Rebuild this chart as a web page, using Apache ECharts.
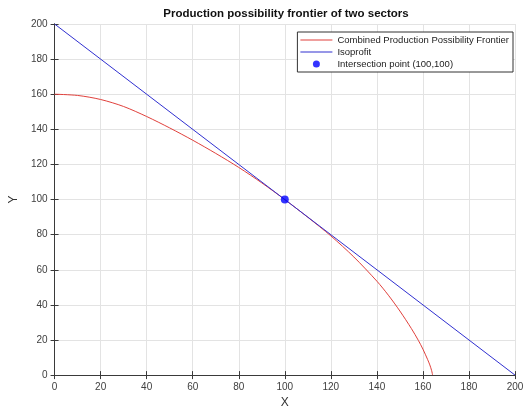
<!DOCTYPE html>
<html>
<head>
<meta charset="utf-8">
<script src="https://cdn.jsdelivr.net/npm/echarts@6/dist/echarts.min.js"></script>
<style>html,body{margin:0;padding:0;background:#fff;}#c{width:532px;height:414px;}</style>
</head>
<body>
<div id="c"></div>
<script>
var titleText = 'Production possibility frontier of two sectors';
var xTicks = [0, 20, 40, 60, 80, 100, 120, 140, 160, 180, 200];
var yTicks = [0, 20, 40, 60, 80, 100, 120, 140, 160, 180, 200];
var ppfX = [0, 10, 20, 30, 40, 50, 60, 70, 80, 90, 100, 110, 120, 130, 140, 145, 150, 155, 158, 160, 162, 163, 163.8, 164.2];
var ppfY = [160, 159.3, 157.0, 153.0, 147.3, 140.8, 133.8, 126.3, 118.3, 109.5, 100, 89.9, 79.3, 67.3, 53.5, 45.5, 36.5, 26.5, 19.8, 14.8, 9.0, 5.8, 2.5, 0];
var isoX = [0, 200];
var isoY = [200, 0];
var pointX = [100];
var pointY = [100];
var names = ['Combined Production Possibility Frontier', 'Isoprofit', 'Intersection point (100,100)'];

function pairs(xs, ys) { return xs.map(function (x, i) { return [x, ys[i]]; }); }

var font = 'Liberation Sans, Arial, Helvetica, sans-serif';
var axisCol = '#3a3a3a';
var chart = echarts.init(document.getElementById('c'), null, {renderer: 'canvas'});
var baseAxis = {
  min: 0, max: 200, interval: 20,
  axisLine: {show: true, lineStyle: {color: axisCol, width: 1}},
  axisTick: {show: true, inside: true, length: 4, lineStyle: {color: axisCol}},
  splitLine: {show: true, lineStyle: {color: '#e3e3e3', width: 1}},
  axisLabel: {color: '#404040', fontSize: 10, fontFamily: font, margin: 7}
};
function ax(extra) { return Object.assign({}, JSON.parse(JSON.stringify(baseAxis)), extra); }

chart.setOption({
  animation: false,
  backgroundColor: '#fff',
  title: {
    text: titleText, left: 281, top: 3, textAlign: 'center',
    textStyle: {fontSize: 11.5, fontWeight: 'bold', color: '#111', fontFamily: font}
  },
  grid: {left: 47, right: 17, top: 24, bottom: 33},
  legend: {
    orient: 'vertical', right: 19, top: 32,
    backgroundColor: '#fff', borderColor: '#333', borderWidth: 1,
    padding: [3, 4, 3, 3], itemGap: 2, itemWidth: 32, itemHeight: 7,
    textStyle: {fontSize: 9.5, color: '#222', fontFamily: font},
    data: [
      {name: names[0], icon: 'path://M0,0 L32,0 L32,1 L0,1 Z'},
      {name: names[1], icon: 'path://M0,0 L32,0 L32,1 L0,1 Z'},
      {name: names[2], icon: 'circle'}
    ]
  },
  xAxis: [
    ax({type: 'value', position: 'bottom', name: 'X', nameLocation: 'middle', nameGap: 20,
        nameTextStyle: {fontSize: 12, color: '#333', fontFamily: font}}),
    ax({type: 'value', position: 'top', axisLabel: {show: false}, splitLine: {show: false}})
  ],
  yAxis: [
    ax({type: 'value', position: 'left', name: 'Y', nameLocation: 'middle', nameGap: 29,
        nameTextStyle: {fontSize: 12, color: '#333', fontFamily: font}}),
    ax({type: 'value', position: 'right', axisLabel: {show: false}, splitLine: {show: false}})
  ],
  series: [
    {name: names[0], type: 'line', data: pairs(ppfX, ppfY), smooth: 0.3, showSymbol: false, symbol: 'none',
     lineStyle: {color: '#e0403c', width: 1}, itemStyle: {color: '#e0403c'}, z: 2},
    {name: names[1], type: 'line', data: pairs(isoX, isoY), showSymbol: false, symbol: 'none',
     lineStyle: {color: '#3030d0', width: 1}, itemStyle: {color: '#3030d0'}, z: 3},
    {name: names[2], type: 'scatter', data: pairs(pointX, pointY), symbol: 'circle', symbolSize: 8,
     itemStyle: {color: '#0000ff'}, z: 4}
  ]
});
</script>
</body>
</html>
